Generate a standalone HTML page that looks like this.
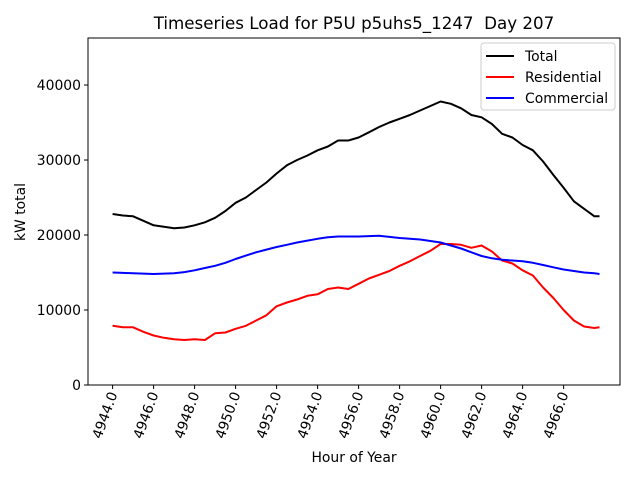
<!DOCTYPE html>
<html><head><meta charset="utf-8"><style>
body{margin:0;background:#fff;}
svg{font-family:"DejaVu Sans","Liberation Sans",sans-serif;}
text{white-space:pre;}
</style></head><body>
<svg id="chart" width="640" height="480" xmlns="http://www.w3.org/2000/svg"></svg>
<script>
const hours = [4944,4944.5,4945,4945.5,4946,4946.5,4947,4947.5,4948,4948.5,4949,4949.5,4950,4950.5,4951,4951.5,4952,4952.5,4953,4953.5,4954,4954.5,4955,4955.5,4956,4956.5,4957,4957.5,4958,4958.5,4959,4959.5,4960,4960.5,4961,4961.5,4962,4962.5,4963,4963.5,4964,4964.5,4965,4965.5,4966,4966.5,4967,4967.5,4967.75];
const totalLoad = [22800,22600,22500,21900,21300,21100,20900,21000,21300,21700,22300,23200,24300,25000,26000,27000,28200,29300,30000,30600,31300,31800,32600,32600,33000,33700,34400,35000,35500,36000,36600,37200,37800,37500,36900,36000,35700,34800,33500,33000,32000,31300,29800,28000,26300,24500,23500,22500,22500];
const commercialLoad = [15000,14950,14900,14850,14800,14850,14900,15050,15300,15600,15900,16300,16800,17250,17700,18050,18400,18700,19000,19250,19500,19700,19800,19800,19800,19850,19900,19750,19600,19500,19400,19200,19000,18600,18200,17700,17200,16900,16700,16600,16500,16300,16000,15700,15400,15200,15000,14900,14800];
const residentialLoad = [7900,7700,7700,7100,6600,6300,6100,6000,6100,6000,6900,7000,7500,7900,8600,9300,10500,11000,11400,11900,12100,12800,13000,12800,13500,14200,14700,15200,15900,16500,17200,17900,18800,18800,18700,18300,18600,17800,16600,16200,15300,14600,13000,11600,10000,8600,7800,7600,7700];
const xTicks = [4944,4946,4948,4950,4952,4954,4956,4958,4960,4962,4964,4966];
const yTicks = [0,10000,20000,30000,40000];

const svg = document.getElementById('chart');
const NS = 'http://www.w3.org/2000/svg';
const L=88,R=620,T=38,B=385;
const xMin=4942.8,xMax=4968.75,yMin=0,yMax=46270;
const xs=v=>L+(v-xMin)/(xMax-xMin)*(R-L);
const ys=v=>B-(v-yMin)/(yMax-yMin)*(B-T);
function mk(tag,attrs,parent){const e=document.createElementNS(NS,tag);for(const k in attrs)e.setAttribute(k,attrs[k]);(parent||svg).appendChild(e);return e;}

const title=mk('text',{x:354,y:29,'text-anchor':'middle','font-size':'16.7'});
title.textContent='Timeseries Load for P5U p5uhs5_1247  Day 207';



xTicks.forEach(t=>{
  const x=xs(t);
  const tk=mk('line',{x1:x,x2:x,y1:B,y2:B+4,stroke:'#000','stroke-width':1});
  
  
  const lb=mk('text',{x:0,y:0,'font-size':'13.9','text-anchor':'end',transform:`translate(${x+5},${B+9}) rotate(-70)`});
  lb.textContent=t.toFixed(1);
  
  
});
yTicks.forEach(t=>{
  const y=ys(t);
  const tk=mk('line',{x1:L-4,x2:L,y1:y,y2:y,stroke:'#000','stroke-width':1});
  
  
  const lb=mk('text',{x:L-7,y:y+5,'font-size':'13.9','text-anchor':'end'});
  lb.textContent=t;
  
  
});

function series(vals,color,name){
  const d=vals.map((v,i)=>(i?'L':'M')+xs(hours[i]).toFixed(1)+','+ys(v).toFixed(1)).join(' ');
  const p=mk('path',{d:d,fill:'none',stroke:color,'stroke-width':2,'stroke-linejoin':'round'});
  
  
}
series(totalLoad,'#000','total-line');
series(residentialLoad,'#ff0000','residential-line');
series(commercialLoad,'#0000ff','commercial-line');

const frame=mk('rect',{x:L,y:T,width:R-L,height:B-T,fill:'none',stroke:'#000','stroke-width':1});



const xl=mk('text',{x:354,y:462,'text-anchor':'middle','font-size':'13.9'});
xl.textContent='Hour of Year';


const yl=mk('text',{x:0,y:0,'text-anchor':'middle','font-size':'13.9',transform:'translate(25,212) rotate(-90)'});
yl.textContent='kW total';



const lg=mk('g',{});


mk('rect',{x:481,y:43,width:134,height:67,rx:3,fill:'#fff',stroke:'#ccc','stroke-width':1},lg);
[['Total','#000'],['Residential','#ff0000'],['Commercial','#0000ff']].forEach((e,i)=>{
  const y=56+i*21;
  const g=mk('g',{},lg);
  
  
  mk('line',{x1:486,x2:514,y1:y,y2:y,stroke:e[1],'stroke-width':2},g);
  const t=mk('text',{x:525,y:y+5,'font-size':'13.9'},g);
  t.textContent=e[0];
});
</script>
</body></html>
